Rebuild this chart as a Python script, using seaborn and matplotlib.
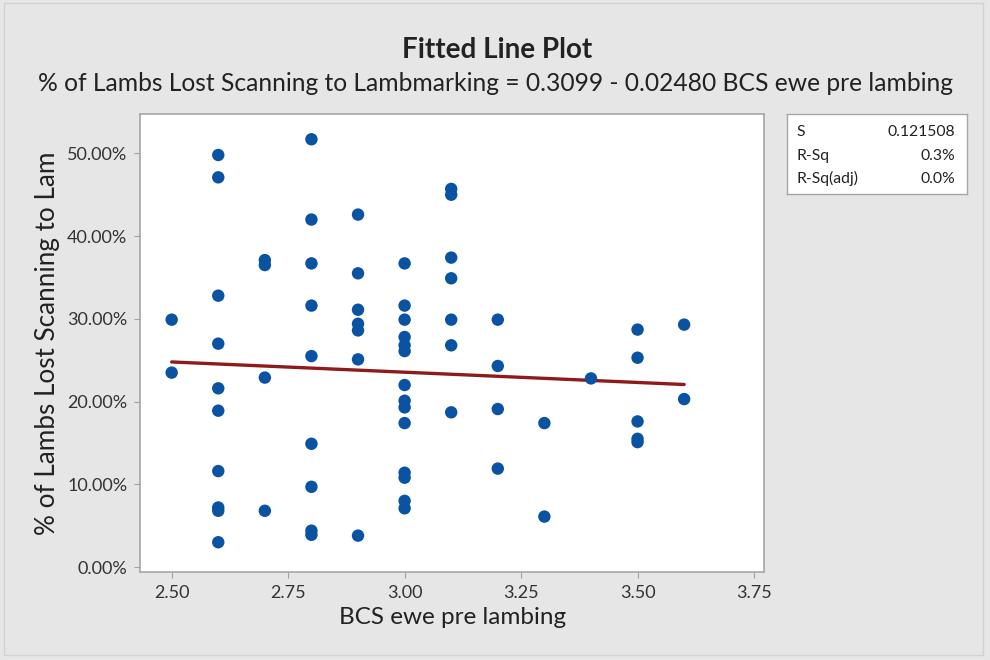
import numpy as np
import pandas as pd
import matplotlib
matplotlib.use("Agg")
import matplotlib.pyplot as plt
import seaborn as sns
from matplotlib.ticker import PercentFormatter
from matplotlib.patches import Rectangle

# BCS score of the ewe and % of lambs lost
bcs = [2.5, 2.5,
       2.6, 2.6, 2.6, 2.6, 2.6, 2.6, 2.6, 2.6, 2.6, 2.6,
       2.7, 2.7, 2.7, 2.7,
       2.8, 2.8, 2.8, 2.8, 2.8, 2.8, 2.8, 2.8, 2.8,
       2.9, 2.9, 2.9, 2.9, 2.9, 2.9, 2.9,
       3.0, 3.0, 3.0, 3.0, 3.0, 3.0, 3.0, 3.0, 3.0, 3.0, 3.0, 3.0, 3.0, 3.0,
       3.1, 3.1, 3.1, 3.1, 3.1, 3.1, 3.1,
       3.2, 3.2, 3.2, 3.2,
       3.3, 3.3,
       3.4,
       3.5, 3.5, 3.5, 3.5, 3.5,
       3.6, 3.6]
lost = [0.299, 0.235,
        0.498, 0.471, 0.328, 0.270, 0.216, 0.189, 0.116, 0.072, 0.068, 0.030,
        0.371, 0.365, 0.229, 0.068,
        0.517, 0.420, 0.367, 0.316, 0.255, 0.149, 0.097, 0.044, 0.039,
        0.426, 0.355, 0.311, 0.294, 0.286, 0.251, 0.038,
        0.367, 0.316, 0.299, 0.278, 0.268, 0.261, 0.220, 0.201, 0.193, 0.174, 0.114, 0.108, 0.080, 0.071,
        0.457, 0.450, 0.374, 0.349, 0.299, 0.268, 0.187,
        0.299, 0.243, 0.191, 0.119,
        0.174, 0.061,
        0.228,
        0.287, 0.253, 0.176, 0.155, 0.151,
        0.293, 0.203]

# fitted line from the subtitle
intercept = 0.3099
slope = -0.02480
stat_names = ["S", "R-Sq", "R-Sq(adj)"]
stat_values = ["0.121508", "0.3%", "0.0%"]

x_ticks = [2.50, 2.75, 3.00, 3.25, 3.50, 3.75]
y_ticks = [0.0, 0.1, 0.2, 0.3, 0.4, 0.5]

df = pd.DataFrame({"bcs": bcs, "lost": lost})
fit_x = np.array([min(bcs), max(bcs)])
fit = pd.DataFrame({"bcs": fit_x, "lost": intercept + slope * fit_x})

sns.set_theme(style="white")
plt.rcParams["font.family"] = ["Lato", "DejaVu Sans"]

bg = "#E6E6E6"
fig = plt.figure(figsize=(9.9, 6.6), dpi=100, facecolor=bg)
fig.patches.append(Rectangle((0.004, 0.007), 0.989, 0.988, transform=fig.transFigure,
                             fill=False, edgecolor="#D2D2D2", linewidth=1))

ax = fig.add_axes([0.1414, 0.1333, 0.6306, 0.6939])
ax.set_facecolor("white")

sns.lineplot(data=fit, x="bcs", y="lost", color="#8E1B1B", linewidth=2.4, ax=ax, zorder=2)
sns.scatterplot(data=df, x="bcs", y="lost", color="#0A52A2", s=80, edgecolor="none", ax=ax, zorder=3)

ax.set_xlim(2.432, 3.772)
ax.set_ylim(-0.006, 0.5475)
ax.set_xticks(x_ticks)
ax.set_xticklabels([f"{v:.2f}" for v in x_ticks])
ax.set_yticks(y_ticks)
ax.yaxis.set_major_formatter(PercentFormatter(1.0, decimals=2))
ax.tick_params(axis="both", labelsize=13, colors="#333333", length=4, width=0.8,
               direction="out", bottom=True, left=True, pad=5)
ax.tick_params(axis="both", color="#A0A0A0")
for sp in ax.spines.values():
    sp.set_color("#A6A6A6")
    sp.set_linewidth(1.2)

ax.set_xlabel("BCS ewe pre lambing", fontsize=17.5, color="#222222", labelpad=5)
ax.set_ylabel("% of Lambs Lost Scanning to Lam", fontsize=18.8, color="#222222", labelpad=5)

fig.text(0.502, 0.925, "Fitted Line Plot", ha="center", va="center", fontsize=20,
         fontweight="bold", color="#222222")
fig.text(0.5, 0.873, "% of Lambs Lost Scanning to Lambmarking = 0.3099 - 0.02480 BCS ewe pre lambing",
         ha="center", va="center", fontsize=17.7, color="#222222")

# summary box
box = fig.add_axes([0.7947, 0.706, 0.1824, 0.1212])
box.set_facecolor("white")
box.set_xticks([])
box.set_yticks([])
for sp in box.spines.values():
    sp.set_color("#A6A6A6")
    sp.set_linewidth(1.0)
for i, (name, val) in enumerate(zip(stat_names, stat_values)):
    yy = 0.77 - i * 0.29
    box.text(0.055, yy, name, ha="left", va="center", fontsize=11.3, color="#222222", transform=box.transAxes)
    box.text(0.935, yy, val, ha="right", va="center", fontsize=11.3, color="#222222", transform=box.transAxes)

fig.savefig("out.png", dpi=100, facecolor=bg)
